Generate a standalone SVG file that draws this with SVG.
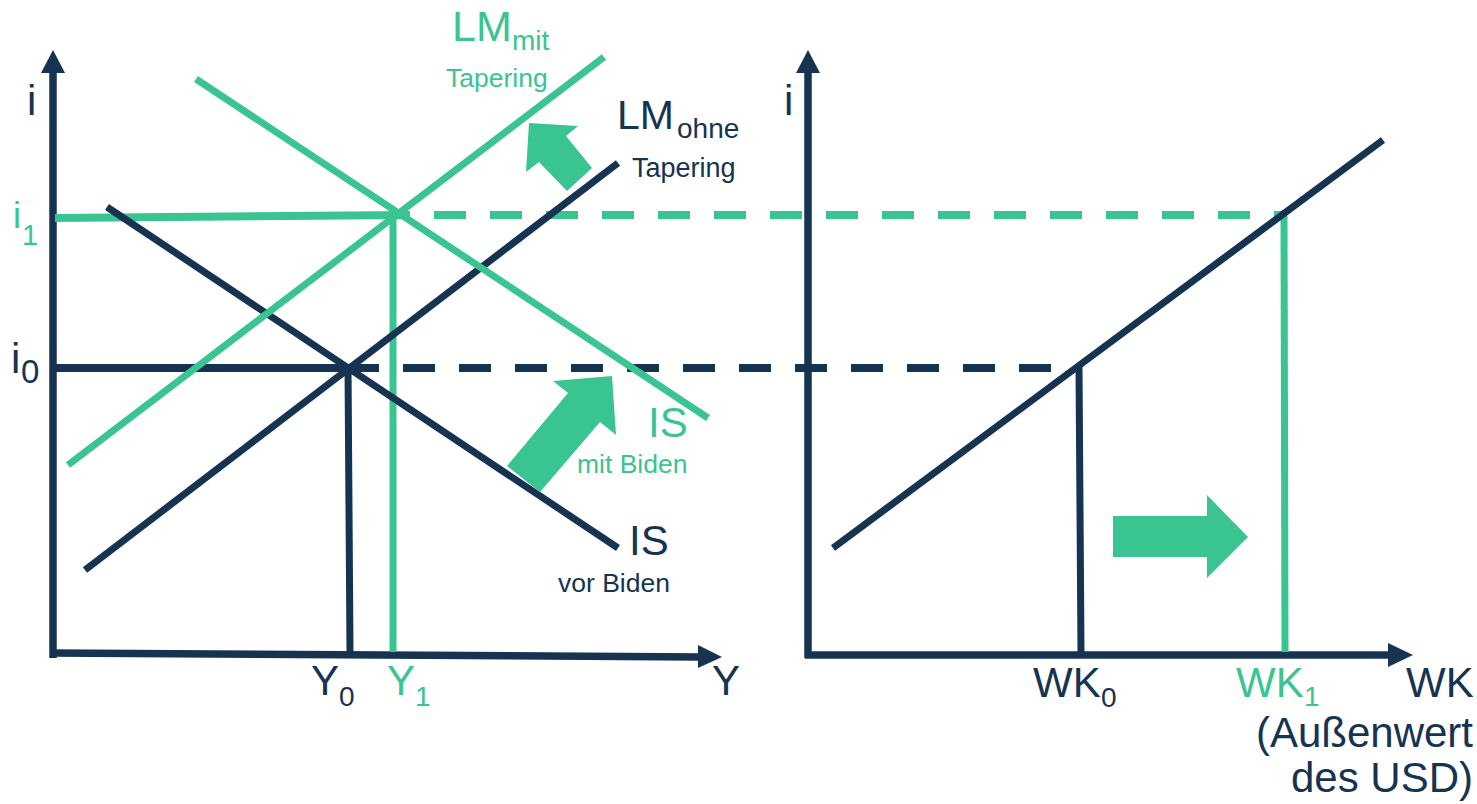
<svg xmlns="http://www.w3.org/2000/svg" width="1477" height="804" viewBox="0 0 1477 804">
<style>
.d{stroke:#163351;fill:none}
.g{stroke:#39c492;fill:none}
.ax{stroke-width:7.5}
.cv{stroke-width:7}
.fd{fill:#163351}
.fg{fill:#39c492}
text{font-family:"Liberation Sans",Arial,sans-serif}
.big{font-size:42px}
.sub{font-size:28px}
.sm{font-size:26.5px}
</style>
<rect width="1477" height="804" fill="#ffffff"/>
<g id="left-axes">
<line class="d ax" x1="53" y1="658" x2="53" y2="72"/>
<polygon class="fd" points="53,50 41,73 65,73"/>
<line class="d ax" x1="50" y1="653" x2="700" y2="657"/>
<polygon class="fd" points="698,645 722,657 698,668"/>
</g>
<g id="right-axes">
<line class="d ax" x1="808" y1="658" x2="808" y2="72"/>
<polygon class="fd" points="808,50 796,73 820,73"/>
<line class="d ax" x1="805" y1="655" x2="1390" y2="655"/>
<polygon class="fd" points="1388,643 1413,655 1388,667"/>
</g>
<g id="connectors">
<line class="g" stroke-width="8" x1="55" y1="218" x2="410" y2="215"/>
<line class="g" stroke-width="8" x1="434" y1="215" x2="1284" y2="215" stroke-dasharray="32 24"/>
<line class="g" stroke-width="7" x1="393" y1="213" x2="393" y2="652"/>
<line class="g" stroke-width="7" x1="1284" y1="211" x2="1285" y2="652"/>
<line class="d" stroke-width="8" x1="55" y1="368" x2="379" y2="368"/>
<line class="d" stroke-width="8" x1="403" y1="368" x2="1051" y2="368" stroke-dasharray="32 24"/>
<line class="d" stroke-width="7" x1="348" y1="366" x2="350" y2="652"/>
<line class="d" stroke-width="7" x1="1079" y1="366" x2="1081" y2="652"/>
</g>
<g id="curve-is-vor">
<line class="d cv" x1="107" y1="207" x2="618" y2="548"/>
</g>
<g id="curve-lm-ohne">
<line class="d cv" x1="85" y1="570" x2="618" y2="163"/>
</g>
<g id="curve-lm-mit">
<line class="g cv" x1="68" y1="465" x2="604" y2="57"/>
</g>
<g id="curve-is-mit">
<line class="g cv" x1="196" y1="79" x2="708" y2="418"/>
</g>
<g id="curve-wk">
<line class="d cv" x1="833" y1="548" x2="1383" y2="140"/>
</g>
<g id="arrow-lm">
<polygon class="fg" points="529,123 578,126 566,136 592,168 567,191 539,162 526,172"/>
</g>
<g id="arrow-is">
<polygon class="fg" points="612,376 616,435 600,422 540,492 507,466 568,393 553,381"/>
</g>
<g id="arrow-wk">
<polygon class="fg" points="1113,516 1207,516 1207,495 1248,537 1207,578 1207,557 1113,557"/>
</g>
<g id="labels-left">
<text class="big" x="27" y="115" fill="#163351">i</text>
<text x="13" y="228" fill="#39c492" font-size="36">i</text>
<text x="22" y="245" fill="#39c492" font-size="29">1</text>
<text class="big" x="11" y="373" fill="#163351">i</text>
<text x="21" y="383" fill="#163351" font-size="33">0</text>
<text x="452" y="41" fill="#39c492" font-size="43">LM</text>
<text x="512" y="50" fill="#39c492" class="sub">mit</text>
<text x="446" y="87" fill="#39c492" font-size="26.5">Tapering</text>
<text x="617" y="129" fill="#163351" font-size="41">LM</text>
<text x="677" y="138" fill="#163351" class="sub">ohne</text>
<text x="632" y="177" fill="#163351" font-size="27">Tapering</text>
<text class="big" x="648" y="437" fill="#39c492">IS</text>
<text class="sm" x="577" y="473" fill="#39c492">mit Biden</text>
<text class="big" x="629" y="555" fill="#163351">IS</text>
<text class="sm" x="558" y="592" fill="#163351">vor Biden</text>
<text class="big" x="311" y="695" fill="#163351">Y</text>
<text class="sub" x="339" y="706" fill="#163351">0</text>
<text class="big" x="387" y="695" fill="#39c492">Y</text>
<text class="sub" x="415" y="706" fill="#39c492">1</text>
<text class="big" x="712" y="695" fill="#163351">Y</text>
</g>
<g id="labels-right">
<text class="big" x="784" y="115" fill="#163351">i</text>
<text class="big" x="1033" y="697" fill="#163351">WK</text>
<text class="sub" x="1101" y="707" fill="#163351">0</text>
<text class="big" x="1236" y="697" fill="#39c492">WK</text>
<text class="sub" x="1304" y="706" fill="#39c492">1</text>
<text class="big" x="1406" y="697" fill="#163351">WK</text>
<text class="big" x="1473" y="747" fill="#163351" text-anchor="end">(Außenwert</text>
<text class="big" x="1473" y="792" fill="#163351" text-anchor="end">des USD)</text>
</g>
</svg>
